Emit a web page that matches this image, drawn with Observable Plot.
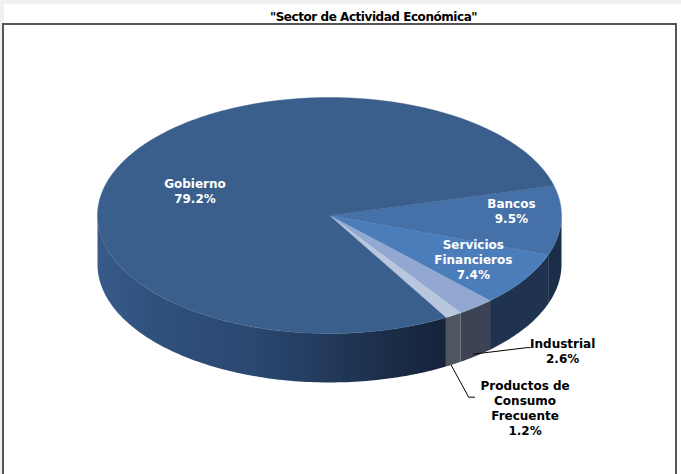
<!DOCTYPE html>
<html>
<head>
<meta charset="utf-8">
<script src="https://cdn.jsdelivr.net/npm/d3@7"></script>
<script src="https://cdn.jsdelivr.net/npm/@observablehq/plot@0.6"></script>
<style>
html,body{margin:0;padding:0;background:#f1f1f1;width:681px;height:474px;overflow:hidden}
#wrap{position:absolute;left:4px;top:4px;right:0;bottom:0;background:#fff}
#title{position:absolute;left:0;width:673px;top:5px;text-align:center;font:700 12px/16px "DejaVu Sans",sans-serif;color:#000;letter-spacing:-.45px;transform:translateX(33px)}
#box{position:absolute;left:2px;top:23px;width:671px;height:460px;border:2px solid #555;background:#fff}
#chart{position:absolute;left:0;top:23px}
#chart svg{display:block;background:transparent}
</style>
</head>
<body>
<div id="wrap"><div id="title">"Sector de Actividad Económica"</div></div>
<div id="box"></div>
<div id="chart"></div>
<script>
const categories = ["Bancos", "Servicios Financieros", "Industrial", "Productos de Consumo Frecuente", "Gobierno"];
const shares = [9.5, 7.4, 2.6, 1.2, 79.2];
const topColors = ["#4671a8", "#4c7dbb", "#93a8d0", "#b9c7de", "#3a5f8c"];
const wallColors = ["#1b2e49", "#1f3350", "#3d4355", "#4f565e", "url(#wallGrad)"];
const labelTexts = ["Bancos\n9.5%", "Servicios\nFinancieros\n7.4%", "Industrial\n2.6%", "Productos de\nConsumo\nFrecuente\n1.2%", "Gobierno\n79.2%"];
const labelX = [0.784, 0.62, 1.005, 0.843, -0.58];
const labelY = [-0.04, 0.373, 1.148, 1.627, -0.21];
const labelFill = ["#fff", "#fff", "#000", "#000", "#fff"];
const leaderIndustrial = [[0.62, 1.175], [0.85, 1.12], [0.865, 1.12]];
const leaderProductos = [[0.525, 1.27], [0.60, 1.54], [0.625, 1.54]];
const startAngle = -14.7, depth = 0.415;

const rad = d => d * Math.PI / 180;
const arc = (a0, a1, dy = 0) => {
  const n = Math.max(2, Math.ceil(Math.abs(a1 - a0)));
  return d3.range(n + 1).map(i => {
    const a = a0 + (a1 - a0) * i / n;
    return {x: Math.cos(rad(a)), y: Math.sin(rad(a)) + dy};
  });
};
let acc = startAngle;
const total = d3.sum(shares);
const slices = categories.map((c, i) => {
  const a0 = acc; acc += shares[i] / total * 360;
  return {c, a0, a1: acc, top: topColors[i], wall: wallColors[i]};
});
const topMarks = slices.map(s => Plot.line([{x: 0, y: 0}, ...arc(s.a0, s.a1), {x: 0, y: 0}],
  {x: "x", y: "y", fill: s.top, stroke: s.top, strokeWidth: 0.4}));
const wallMarks = slices.map(s => {
  const a0 = Math.max(s.a0, 0), a1 = Math.min(s.a1, 180);
  return Plot.line([...arc(a0, a1), ...arc(a1, a0, depth)],
    {x: "x", y: "y", fill: s.wall, stroke: "none"});
});
const defs = () => {
  const d = d3.create("svg:defs");
  const g = d.append("linearGradient").attr("id", "wallGrad");
  [[0, "#375b8a"], [.18, "#2f507c"], [.45, "#2a4870"], [.65, "#233a5c"], [.85, "#1b2c47"], [1, "#16233a"]]
    .forEach(([o, c]) => g.append("stop").attr("offset", o).attr("stop-color", c));
  return d.node();
};
const leader = pts => Plot.line(pts, {x: d => d[0], y: d => d[1], stroke: "#000", strokeWidth: 1});
const plot = Plot.plot({
  width: 681, height: 451,
  margin: 0,
  x: {domain: [-1, 1], range: [97, 561], axis: null},
  y: {domain: [-1, 1], range: [74, 310], axis: null},
  marks: [
    defs,
    ...wallMarks,
    ...topMarks,
    leader(leaderIndustrial),
    leader(leaderProductos),
    Plot.text(labelTexts, {
      x: (d, i) => labelX[i], y: (d, i) => labelY[i], text: d => d,
      fill: (d, i) => labelFill[i], fontSize: 12, fontWeight: 700,
      fontFamily: "DejaVu Sans", lineHeight: 1.25
    })
  ],
  color: {type: "identity"}
});
document.getElementById("chart").appendChild(plot);
</script>
</body>
</html>
